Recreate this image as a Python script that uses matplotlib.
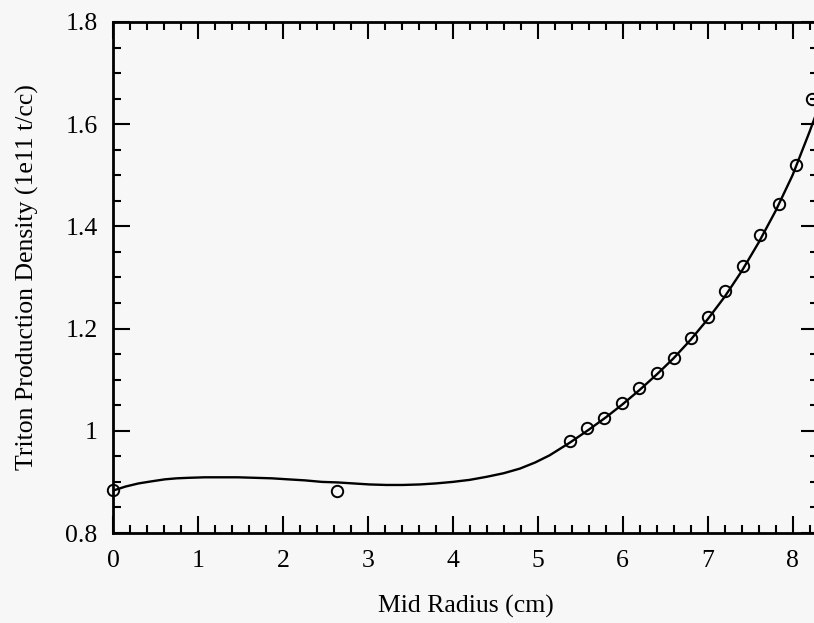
import matplotlib
matplotlib.use("Agg")
import matplotlib.pyplot as plt
from matplotlib.ticker import MultipleLocator, FixedLocator

# Data points (open circles)
radius = [0.0, 2.64, 5.38, 5.58, 5.78, 5.99, 6.19, 6.40, 6.60, 6.80, 7.01,
          7.21, 7.42, 7.62, 7.84, 8.04, 8.23]
density = [0.884, 0.883, 0.981, 1.005, 1.025, 1.054, 1.083, 1.114, 1.142,
           1.182, 1.223, 1.274, 1.322, 1.383, 1.444, 1.520, 1.650]

# Fitted curve
curve_x = [0.0, 0.15, 0.30, 0.45, 0.61, 0.75, 0.89, 1.08, 1.28, 1.47, 1.67,
           1.87, 2.06, 2.26, 2.46, 2.64, 2.83, 3.02, 3.22, 3.41, 3.61, 3.80,
           4.00, 4.20, 4.40, 4.60, 4.79, 4.97, 5.14, 5.38, 5.60, 5.80, 6.00,
           6.20, 6.40, 6.60, 6.80, 7.00, 7.20, 7.40, 7.60, 7.80, 8.00, 8.20, 8.30]
curve_y = [0.883, 0.891, 0.897, 0.901, 0.905, 0.907, 0.908, 0.909, 0.909, 0.909, 0.908,
           0.907, 0.905, 0.903, 0.900, 0.899, 0.897, 0.895, 0.894, 0.894, 0.895, 0.897,
           0.900, 0.904, 0.910, 0.917, 0.926, 0.938, 0.952, 0.977, 1.002, 1.026, 1.052,
           1.080, 1.110, 1.142, 1.178, 1.218, 1.262, 1.312, 1.368, 1.430, 1.500, 1.585, 1.630]

x_ticks = [0, 1, 2, 3, 4, 5, 6, 7, 8]
x_ticklabels = ["0", "1", "2", "3", "4", "5", "6", "7", "8"]
y_ticks = [0.8, 1.0, 1.2, 1.4, 1.6, 1.8]
y_ticklabels = ["0.8", "1", "1.2", "1.4", "1.6", "1.8"]

bg = "#f7f7f7"
plt.rcParams["font.family"] = ["Liberation Serif", "DejaVu Serif"]

fig = plt.figure(figsize=(8.14, 6.23), dpi=100, facecolor=bg)
ax = fig.add_axes([113 / 814, 1 - 533 / 623, (818 - 113) / 814, (533 - 22) / 623])
ax.set_facecolor(bg)

ax.plot(curve_x, curve_y, color="black", lw=1.7)
ax.plot(radius, density, linestyle="none", marker="o", markersize=8.2,
        markerfacecolor="none", markeredgecolor="black", markeredgewidth=1.4,
        clip_on=False)

ax.set_xlim(0, 8.3)
ax.set_ylim(0.8, 1.8)
ax.xaxis.set_major_locator(FixedLocator(x_ticks))
ax.set_xticklabels(x_ticklabels)
ax.xaxis.set_minor_locator(MultipleLocator(0.2))
ax.yaxis.set_major_locator(FixedLocator(y_ticks))
ax.set_yticklabels(y_ticklabels)
ax.yaxis.set_minor_locator(MultipleLocator(0.05))

ax.tick_params(which="both", direction="in", top=True, right=True,
               colors="black", labelsize=18.5, width=1.5)
ax.tick_params(which="major", length=12)
ax.tick_params(axis="x", which="major", pad=12)
ax.tick_params(axis="y", which="major", pad=11)
ax.tick_params(which="minor", length=6)
for s in ax.spines.values():
    s.set_linewidth(2.0)

ax.set_xlabel("Mid Radius (cm)", fontsize=18.5, labelpad=17)
ax.set_ylabel("Triton Production Density (1e11 t/cc)", fontsize=18.5, labelpad=19)

fig.savefig("out.png", dpi=100, facecolor=bg)
